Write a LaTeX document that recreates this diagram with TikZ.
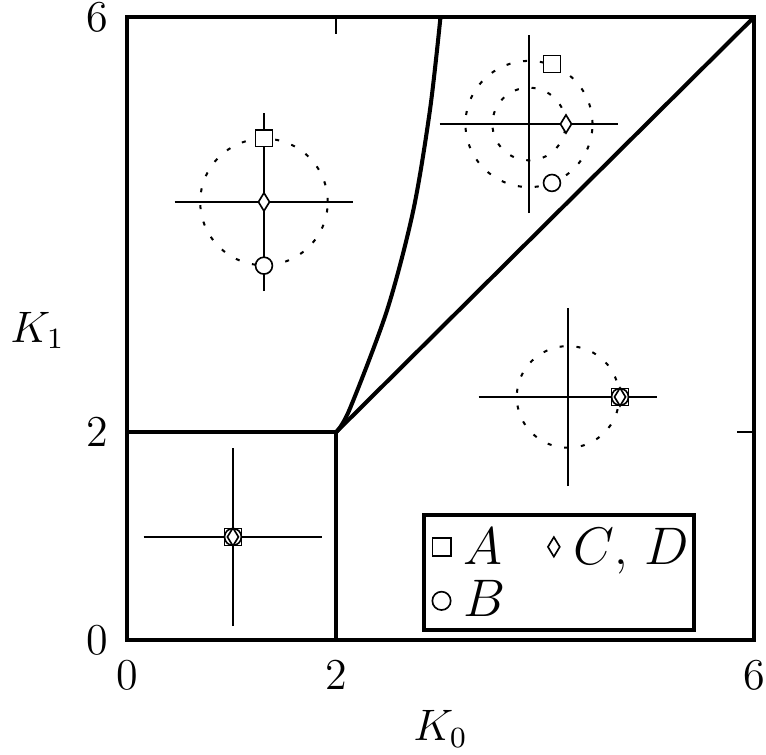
\documentclass[tikz,border=0pt]{standalone}
\usepackage{amsmath}
\usepackage{tikz}
\usetikzlibrary{arrows.meta, positioning, calc, shapes.geometric}

\begin{document}
\begin{tikzpicture}[x=1cm, y=0.993cm,
    borda/.style={line width=1.1pt},
    cruz/.style={line width=0.5pt},
    pontilhado/.style={line width=0.55pt, dash pattern=on 1.1pt off 3.5pt},
    mksq/.style={draw, fill=white, rectangle, inner sep=0pt, minimum size=4.6pt, line width=0.45pt},
    mkci/.style={draw, fill=white, circle, inner sep=0pt, minimum size=4.6pt, line width=0.45pt},
    mkdi/.style={draw, fill=white, diamond, inner sep=0pt, minimum width=3.2pt, minimum height=5.1pt, line width=0.45pt},
    rotulo/.style={inner sep=0pt, font=\fontsize{12}{14}\selectfont},
    legenda/.style={inner sep=0pt, font=\fontsize{13.5}{16}\selectfont}]

    \useasboundingbox (-1.215,-1.108) rectangle (6.115,6.166);

    % regioes do plano (K0, K1)
    \draw[borda] (0,0) rectangle (6,6);
    \draw[borda] (0,2) -- (2,2) -- (2,0);
    \draw[borda] (2,2) -- (6,6);
    \draw[borda] plot[smooth] coordinates {(2,2) (2.13,2.22) (2.49,3.18) (2.74,4.14) (2.90,5.11) (3.0,6)};

    \draw[cruz] (2,6) -- (2,5.84);
    \draw[cruz] (6,2) -- (5.84,2);

    % eixos
    \node[rotulo, anchor=north] (x0) at (0,-0.19) {0};
    \node[rotulo, anchor=north] (x2) at (2,-0.19) {2};
    \node[rotulo, anchor=north] (x6) at (6,-0.19) {6};
    \node[rotulo, anchor=east] (y0) at (-0.17,0) {0};
    \node[rotulo, anchor=east] (y2) at (-0.17,2) {2};
    \node[rotulo, anchor=east] (y6) at (-0.17,6) {6};
    \node[rotulo] (k0) at (3.0,-0.86) {$K_0$};
    \node[rotulo] (k1) at (-0.857,2.98) {$K_1$};

    % canto superior esquerdo
    \coordinate (c1) at (1.311,4.22);
    \draw[cruz] ($(c1)+(-0.855,0)$) -- ($(c1)+(0.855,0)$);
    \draw[cruz] ($(c1)+(0,-0.86)$) -- ($(c1)+(0,0.86)$);
    \draw[pontilhado] (c1) circle (0.61);
    \node[mksq] (a1) at ($(c1)+(0,0.614)$) {};
    \node[mkci] (b1) at ($(c1)+(0,-0.614)$) {};
    \node[mkdi] (d1) at (c1) {};

    % canto superior direito
    \coordinate (c2) at (3.847,4.971);
    \draw[cruz] ($(c2)+(-0.855,0)$) -- ($(c2)+(0.855,0)$);
    \draw[cruz] ($(c2)+(0,-0.86)$) -- ($(c2)+(0,0.86)$);
    \draw[pontilhado] (c2) circle (0.608);
    \draw[pontilhado] (c2) circle (0.35);
    \node[mksq] (a2) at (4.067,5.549) {};
    \node[mkci] (b2) at (4.067,4.403) {};
    \node[mkdi] (d2) at (4.201,4.971) {};

    % meio a direita
    \coordinate (c3) at (4.22,2.341);
    \draw[cruz] ($(c3)+(-0.855,0)$) -- ($(c3)+(0.855,0)$);
    \draw[cruz] ($(c3)+(0,-0.86)$) -- ($(c3)+(0,0.86)$);
    \draw[pontilhado] (c3) circle (0.49);
    \node[mksq] (a3) at (4.718,2.341) {};
    \node[mkci] (b3) at (4.718,2.341) {};
    \node[mkdi] (d3) at (4.718,2.341) {};

    % quadrado de baixo
    \coordinate (c4) at (1.014,0.992);
    \draw[cruz] ($(c4)+(-0.855,0)$) -- ($(c4)+(0.855,0)$);
    \draw[cruz] ($(c4)+(0,-0.86)$) -- ($(c4)+(0,0.86)$);
    \node[mksq] (a4) at (c4) {};
    \node[mkci] (b4) at (c4) {};
    \node[mkdi] (d4) at (c4) {};

    % legenda
    \draw[borda, fill=white] (2.842,0.096) rectangle (5.426,1.204);
    \node[mksq, minimum size=5pt] (la) at (3.01,0.896) {};
    \node[mkci, minimum size=5pt] (lb) at (3.01,0.376) {};
    \node[mkdi, minimum width=3.4pt, minimum height=5.5pt] (ld) at (4.085,0.896) {};
    \node[legenda, anchor=base west] (ta) at (3.215,0.7225) {$A$};
    \node[legenda, anchor=base west] (tb) at (3.215,0.2216) {$B$};
    \node[legenda, anchor=base west] (td) at (4.268,0.7225) {$C$, $D$};

\end{tikzpicture}
\end{document}
